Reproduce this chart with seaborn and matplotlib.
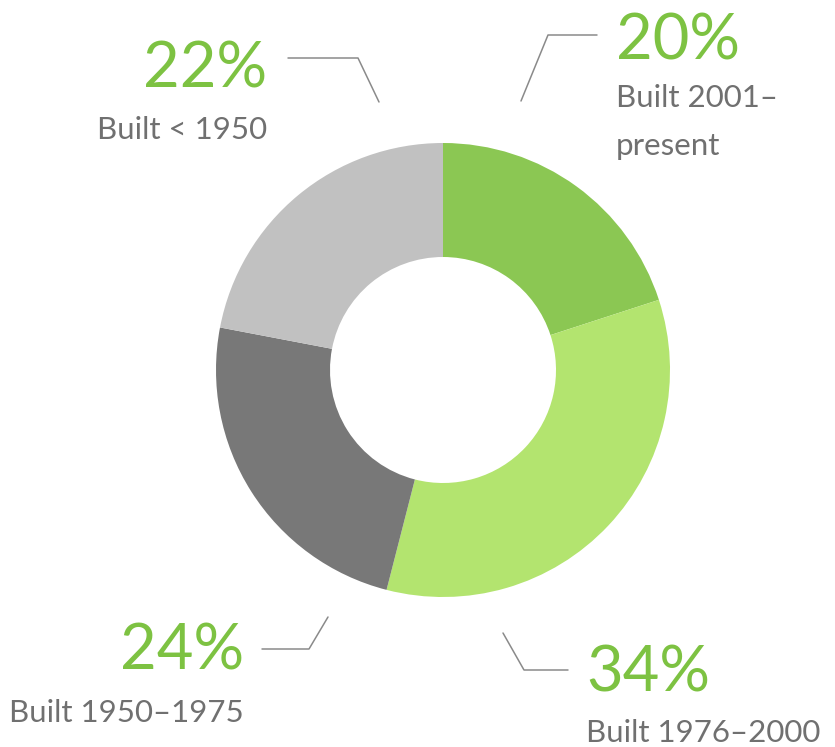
import matplotlib
matplotlib.use("Agg")
import matplotlib.pyplot as plt
import seaborn as sns

# --- Data ---
categories = ["Built 2001–\npresent", "Built 1976–2000", "Built 1950–1975", "Built < 1950"]
shares = [20, 34, 24, 22]
slice_colors = ["#8bc753", "#b3e46f", "#787878", "#c1c1c1"]

sns.set_theme(style="white")
plt.rcParams["font.family"] = ["Lato", "DejaVu Sans"]

W, H = 835, 747
fig = plt.figure(figsize=(W / 100, H / 100), dpi=100)
ax = fig.add_axes([0, 0, 1, 1])


def fy(y):
    # picture rows (top-down) -> data y (bottom-up)
    return H - y


# donut, clockwise from 12 o'clock
ax.pie(shares, colors=slice_colors, startangle=90, counterclock=False,
       center=(443, fy(370)), radius=227, frame=True,
       wedgeprops=dict(width=114, linewidth=0))
ax.set_xlim(0, W)
ax.set_ylim(0, H)
ax.set_aspect("equal")
ax.axis("off")

green = "#7dc242"
grey_txt = "#707070"
line_c = "#8a8a8a"

# label layout: (pct x, pct baseline, ha, name baseline, leader line points)
layout = [
    (616, 60, "left", 107, [(597, 35), (548, 35), (521, 101)]),
    (586, 692, "left", 742, [(568, 670), (524, 670), (503, 633)]),
    (244, 670, "right", 722, [(262, 649), (309, 649), (328, 617)]),
    (267, 87, "right", 139, [(288, 58), (358, 58), (379, 102)]),
]

for share, name, (px, py, ha, ny, pts) in zip(shares, categories, layout):
    ax.text(px, fy(py), f"{share}%", color=green, fontsize=45.5,
            ha=ha, va="baseline")
    for i, line in enumerate(name.split("\n")):
        ax.text(px, fy(ny + 48 * i), line, color=grey_txt, fontsize=22.5,
                ha=ha, va="baseline")
    xs, ys = zip(*pts)
    ax.plot(xs, [fy(v) for v in ys], color=line_c, lw=1.1)

plt.savefig("out.png", dpi=100)
